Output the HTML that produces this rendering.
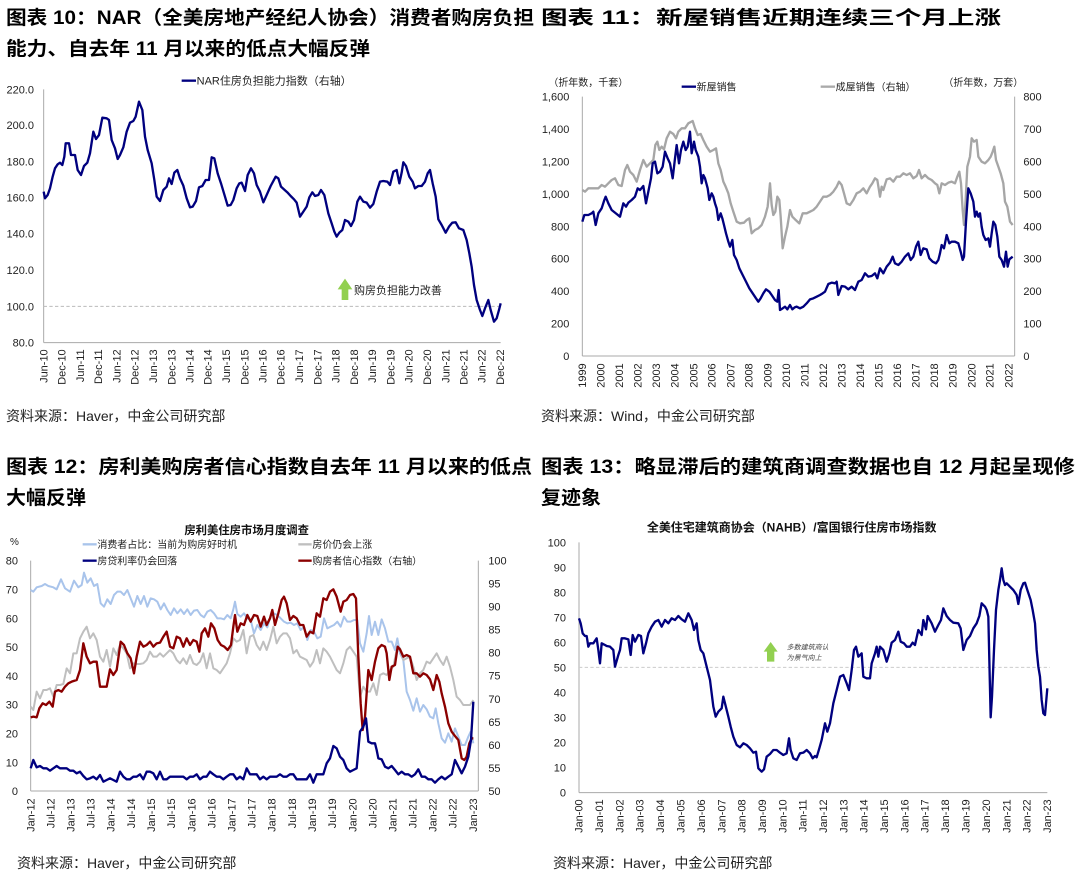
<!DOCTYPE html>
<html><head><meta charset="utf-8"><style>
html,body{margin:0;padding:0;background:#fff;}
svg{display:block;font-family:"Liberation Sans","Noto Sans CJK SC",sans-serif;}
.t{font-weight:bold;font-size:19px;fill:#000;}
.s{font-size:14px;fill:#222;}
.ax{font-size:33px;fill:#222;}
.sm{font-size:30px;fill:#222;}
</style></head><body>
<svg width="1080" height="881" viewBox="0 0 1080 881" xmlns="http://www.w3.org/2000/svg">
<rect width="1080" height="881" fill="#fff"/>
<!-- titles -->
<text class="t" x="6" y="24" textLength="528" lengthAdjust="spacingAndGlyphs">图表 10：NAR（全美房地产经纪人协会）消费者购房负担</text>
<text class="t" x="6" y="55" textLength="364" lengthAdjust="spacingAndGlyphs">能力、自去年 11 月以来的低点大幅反弹</text>
<text class="t" x="541" y="24" textLength="460" lengthAdjust="spacingAndGlyphs">图表 11：新屋销售近期连续三个月上涨</text>
<text class="t" x="6" y="473" textLength="526" lengthAdjust="spacingAndGlyphs">图表 12：房利美购房者信心指数自去年 11 月以来的低点</text>
<text class="t" x="6" y="504" textLength="80" lengthAdjust="spacingAndGlyphs">大幅反弹</text>
<text class="t" x="541" y="473" textLength="534" lengthAdjust="spacingAndGlyphs">图表 13：略显滞后的建筑商调查数据也自 12 月起呈现修</text>
<text class="t" x="541" y="504" textLength="60" lengthAdjust="spacingAndGlyphs">复迹象</text>
<text class="s" x="6" y="421">资料来源：Haver，中金公司研究部</text>
<text class="s" x="541" y="421">资料来源：Wind，中金公司研究部</text>
<text class="s" x="17" y="868">资料来源：Haver，中金公司研究部</text>
<text class="s" x="553" y="868">资料来源：Haver，中金公司研究部</text>

<!-- Chart 1 -->
<g transform="translate(0,60) scale(0.33333)">
<line x1="131" y1="88" x2="131" y2="848" stroke="#aaa" stroke-width="3"/>
<line x1="131" y1="848" x2="1502" y2="848" stroke="#aaa" stroke-width="3"/>
<line x1="131" y1="739" x2="1502" y2="739" stroke="#bbb" stroke-width="3" stroke-dasharray="10,7"/>
<g class="ax" text-anchor="end">
<text x="102" y="100">220.0</text><text x="102" y="207">200.0</text><text x="102" y="316">180.0</text><text x="102" y="424">160.0</text><text x="102" y="533">140.0</text><text x="102" y="642">120.0</text><text x="102" y="751">100.0</text><text x="102" y="859">80.0</text>
</g>
<line x1="545" y1="62" x2="588" y2="62" stroke="#00007f" stroke-width="7"/>
<text class="ax" x="590" y="73">NAR住房负担能力指数（右轴）</text>
<polygon points="1013,688 1035,656 1057,688 1045,688 1045,720 1025,720 1025,688" fill="#92d050"/>
<text class="ax" x="1062" y="702">购房负担能力改善</text>
<polyline fill="none" stroke="#00007f" stroke-width="7" stroke-linejoin="round" points="131,395 135,415 143,405 150,385 158,350 165,325 173,313 180,308 187,315 193,290 197,250 207,250 213,285 225,285 233,330 243,345 252,318 262,308 270,280 280,215 288,237 297,225 307,173 320,175 327,180 335,240 345,265 353,297 360,285 370,262 380,215 390,188 400,183 407,170 417,125 427,150 435,230 443,270 455,310 463,360 470,410 480,423 490,390 500,380 507,355 515,372 523,338 532,330 540,355 550,377 560,415 570,442 578,440 588,423 597,382 607,378 617,360 627,360 635,292 643,295 653,340 663,370 675,410 683,437 692,435 700,420 710,385 718,370 725,368 735,393 743,345 753,325 762,340 770,375 780,395 790,427 800,405 812,378 827,350 835,355 843,380 852,388 862,397 872,408 882,418 890,428 900,470 910,455 920,440 928,412 937,397 945,408 955,405 963,390 973,405 985,460 995,490 1003,515 1010,530 1018,518 1027,510 1035,480 1045,485 1053,498 1062,480 1072,425 1080,410 1090,425 1100,428 1110,443 1120,432 1130,395 1140,365 1150,363 1162,365 1170,375 1180,335 1190,330 1198,370 1205,338 1210,307 1218,318 1228,350 1238,365 1245,385 1255,378 1265,378 1275,365 1283,340 1290,330 1298,370 1307,410 1315,478 1325,495 1337,518 1347,500 1357,488 1367,487 1377,505 1390,510 1400,540 1408,580 1415,620 1422,675 1430,720 1440,750 1447,768 1455,745 1465,720 1472,750 1482,785 1490,775 1497,750 1502,730"/>
<g class="ax" text-anchor="end">
<text transform="translate(142,868) rotate(-90)">Jun-10</text><text transform="translate(197,868) rotate(-90)">Dec-10</text><text transform="translate(252,868) rotate(-90)">Jun-11</text><text transform="translate(306,868) rotate(-90)">Dec-11</text><text transform="translate(361,868) rotate(-90)">Jun-12</text><text transform="translate(416,868) rotate(-90)">Dec-12</text><text transform="translate(471,868) rotate(-90)">Jun-13</text><text transform="translate(526,868) rotate(-90)">Dec-13</text><text transform="translate(580,868) rotate(-90)">Jun-14</text><text transform="translate(635,868) rotate(-90)">Dec-14</text><text transform="translate(690,868) rotate(-90)">Jun-15</text><text transform="translate(745,868) rotate(-90)">Dec-15</text><text transform="translate(800,868) rotate(-90)">Jun-16</text><text transform="translate(854,868) rotate(-90)">Dec-16</text><text transform="translate(909,868) rotate(-90)">Jun-17</text><text transform="translate(964,868) rotate(-90)">Dec-17</text><text transform="translate(1019,868) rotate(-90)">Jun-18</text><text transform="translate(1074,868) rotate(-90)">Dec-18</text><text transform="translate(1128,868) rotate(-90)">Jun-19</text><text transform="translate(1183,868) rotate(-90)">Dec-19</text><text transform="translate(1238,868) rotate(-90)">Jun-20</text><text transform="translate(1293,868) rotate(-90)">Dec-20</text><text transform="translate(1348,868) rotate(-90)">Jun-21</text><text transform="translate(1402,868) rotate(-90)">Dec-21</text><text transform="translate(1457,868) rotate(-90)">Jun-22</text><text transform="translate(1512,868) rotate(-90)">Dec-22</text>
</g>
</g>

<!-- Chart 2 -->
<g transform="translate(540,60) scale(0.33333)">
<line x1="127" y1="110" x2="127" y2="888" stroke="#aaa" stroke-width="3"/>
<line x1="1424" y1="110" x2="1424" y2="888" stroke="#aaa" stroke-width="3"/>
<line x1="127" y1="888" x2="1424" y2="888" stroke="#aaa" stroke-width="3"/>
<g class="ax" text-anchor="end">
<text x="88" y="122">1,600</text><text x="88" y="219">1,400</text><text x="88" y="316">1,200</text><text x="88" y="414">1,000</text><text x="88" y="511">800</text><text x="88" y="608">600</text><text x="88" y="705">400</text><text x="88" y="803">200</text><text x="88" y="900">0</text>
</g>
<g class="ax">
<text x="1450" y="122">800</text><text x="1450" y="219">700</text><text x="1450" y="316">600</text><text x="1450" y="414">500</text><text x="1450" y="511">400</text><text x="1450" y="608">300</text><text x="1450" y="705">200</text><text x="1450" y="803">100</text><text x="1450" y="900">0</text>
</g>
<text class="sm" x="25" y="78">（折年数，千套）</text>
<text class="sm" x="1210" y="78">（折年数，万套）</text>
<line x1="425" y1="80" x2="468" y2="80" stroke="#00007f" stroke-width="7"/>
<text class="sm" x="470" y="91">新屋销售</text>
<line x1="842" y1="80" x2="885" y2="80" stroke="#aaa" stroke-width="7"/>
<text class="sm" x="887" y="91">成屋销售（右轴）</text>
<polyline fill="none" stroke="#a6a6a6" stroke-width="7" stroke-linejoin="round" points="127,390 135,395 145,385 160,385 175,385 185,375 195,380 205,370 215,360 225,355 235,375 245,378 255,330 262,315 270,335 280,345 290,365 300,330 310,300 320,320 330,310 340,300 346,255 352,245 358,270 365,260 372,268 380,235 390,215 400,222 408,235 415,215 425,205 435,205 445,190 458,183 465,205 473,225 482,222 490,240 500,260 510,275 520,270 528,265 535,310 542,330 550,365 557,380 565,400 572,430 580,455 590,485 600,490 612,488 620,480 628,475 635,520 645,510 655,505 665,495 675,470 683,440 690,370 695,435 700,465 706,455 712,410 718,420 722,470 728,565 735,530 742,500 750,450 757,470 765,478 778,490 788,460 800,460 810,455 820,450 830,440 840,425 850,410 860,410 870,405 880,395 890,380 897,365 905,375 912,400 920,430 930,435 940,420 950,400 960,395 970,385 980,400 990,380 997,370 1005,355 1012,360 1020,410 1025,380 1030,390 1040,358 1050,355 1060,365 1070,350 1080,350 1090,340 1100,345 1110,340 1120,355 1130,348 1137,330 1145,355 1155,345 1165,355 1175,360 1185,370 1192,375 1198,400 1205,370 1215,375 1225,368 1235,365 1245,370 1252,350 1258,335 1263,370 1268,450 1272,495 1277,420 1282,320 1290,290 1295,235 1302,245 1310,240 1315,290 1325,305 1335,310 1345,300 1352,290 1358,275 1363,260 1368,300 1375,320 1382,340 1390,370 1395,425 1402,440 1410,485 1418,495"/>
<polyline fill="none" stroke="#00007f" stroke-width="7" stroke-linejoin="round" points="127,485 133,465 145,465 155,460 160,455 167,495 175,460 185,445 193,420 197,410 205,430 215,450 230,462 240,470 250,430 258,440 265,428 275,420 285,410 293,385 300,390 310,378 318,430 325,395 333,355 338,310 345,305 352,340 360,335 368,320 375,275 383,295 390,310 398,355 405,295 410,255 417,310 423,270 430,245 437,270 443,260 450,215 455,280 462,245 467,270 475,290 480,320 485,370 490,345 495,355 503,385 508,420 515,400 520,410 525,430 530,445 535,480 542,460 547,475 552,495 558,520 565,545 570,560 577,540 582,585 590,600 598,625 608,645 618,665 628,685 638,700 648,715 655,725 662,715 670,700 678,688 688,695 695,705 705,720 712,725 716,690 720,750 728,745 735,740 742,748 750,735 757,748 764,742 770,740 780,745 790,740 800,730 810,718 820,715 830,710 840,705 848,700 855,695 865,672 875,668 885,670 890,665 895,705 905,678 915,680 925,688 935,680 945,690 955,665 965,660 975,640 985,650 995,648 1005,640 1012,655 1020,625 1030,640 1040,620 1050,608 1058,590 1065,610 1075,615 1085,605 1095,590 1105,580 1112,600 1120,590 1128,560 1135,545 1142,585 1150,565 1160,568 1168,595 1178,605 1188,610 1195,600 1200,580 1205,555 1212,565 1220,525 1228,550 1235,545 1245,545 1255,550 1262,575 1268,600 1272,590 1278,485 1285,385 1292,400 1300,425 1305,470 1310,455 1315,470 1320,460 1325,500 1330,525 1337,540 1345,535 1350,560 1355,520 1360,485 1366,495 1372,530 1378,590 1385,600 1392,620 1398,575 1403,620 1408,598 1418,590"/>
<g class="ax" text-anchor="end">
<text transform="translate(138,910) rotate(-90)">1999</text><text transform="translate(194,910) rotate(-90)">2000</text><text transform="translate(249,910) rotate(-90)">2001</text><text transform="translate(305,910) rotate(-90)">2002</text><text transform="translate(360,910) rotate(-90)">2003</text><text transform="translate(416,910) rotate(-90)">2004</text><text transform="translate(472,910) rotate(-90)">2005</text><text transform="translate(527,910) rotate(-90)">2006</text><text transform="translate(583,910) rotate(-90)">2007</text><text transform="translate(638,910) rotate(-90)">2008</text><text transform="translate(694,910) rotate(-90)">2009</text><text transform="translate(750,910) rotate(-90)">2010</text><text transform="translate(805,910) rotate(-90)">2011</text><text transform="translate(861,910) rotate(-90)">2012</text><text transform="translate(916,910) rotate(-90)">2013</text><text transform="translate(972,910) rotate(-90)">2014</text><text transform="translate(1028,910) rotate(-90)">2015</text><text transform="translate(1083,910) rotate(-90)">2016</text><text transform="translate(1139,910) rotate(-90)">2017</text><text transform="translate(1194,910) rotate(-90)">2018</text><text transform="translate(1250,910) rotate(-90)">2019</text><text transform="translate(1306,910) rotate(-90)">2020</text><text transform="translate(1361,910) rotate(-90)">2021</text><text transform="translate(1417,910) rotate(-90)">2022</text>
</g>
</g>

<!-- Chart 3 -->
<g transform="translate(0,510) scale(0.33333)">
<line x1="92" y1="152" x2="92" y2="843" stroke="#aaa" stroke-width="3"/>
<line x1="1435" y1="152" x2="1435" y2="843" stroke="#aaa" stroke-width="3"/>
<line x1="92" y1="843" x2="1435" y2="843" stroke="#aaa" stroke-width="3"/>
<text x="740" y="72" text-anchor="middle" style="font-size:34px;font-weight:bold;fill:#111">房利美住房市场月度调查</text>
<text class="sm" x="30" y="105">%</text>
<g class="ax" text-anchor="end">
<text x="54" y="164">80</text><text x="54" y="250">70</text><text x="54" y="337">60</text><text x="54" y="423">50</text><text x="54" y="510">40</text><text x="54" y="596">30</text><text x="54" y="682">20</text><text x="54" y="769">10</text><text x="54" y="855">0</text>
</g>
<g class="ax">
<text x="1465" y="164">100</text><text x="1465" y="233">95</text><text x="1465" y="302">90</text><text x="1465" y="371">85</text><text x="1465" y="440">80</text><text x="1465" y="509">75</text><text x="1465" y="579">70</text><text x="1465" y="648">65</text><text x="1465" y="717">60</text><text x="1465" y="786">55</text><text x="1465" y="855">50</text>
</g>
<line x1="248" y1="103" x2="290" y2="103" stroke="#a9c4eb" stroke-width="7"/>
<text class="sm" x="292" y="114">消费者占比：当前为购房好时机</text>
<line x1="895" y1="103" x2="935" y2="103" stroke="#bfbfbf" stroke-width="7"/>
<text class="sm" x="937" y="114">房价仍会上涨</text>
<line x1="248" y1="152" x2="290" y2="152" stroke="#00007f" stroke-width="7"/>
<text class="sm" x="292" y="163">房贷利率仍会回落</text>
<line x1="895" y1="152" x2="935" y2="152" stroke="#8b0000" stroke-width="7"/>
<text class="sm" x="937" y="163">购房者信心指数（右轴）</text>
<polyline fill="none" stroke="#a9c4eb" stroke-width="6" stroke-linejoin="round" points="92,240 100,245 110,232 125,228 135,222 145,228 160,232 170,238 183,208 195,235 210,245 222,212 235,232 245,225 252,188 262,218 272,205 282,228 292,222 302,280 312,290 322,268 332,282 342,255 352,245 362,245 372,255 382,240 392,265 402,290 412,258 422,282 432,258 442,290 452,265 462,268 472,275 482,298 492,280 502,300 512,315 522,295 532,310 542,298 552,312 562,298 572,315 582,302 592,300 602,315 612,322 622,305 632,300 642,310 652,325 662,325 672,328 682,315 692,325 700,298 705,275 712,312 722,320 732,310 742,325 752,330 762,370 772,345 782,360 792,340 802,352 812,318 822,310 832,315 842,325 852,335 862,340 872,338 882,345 892,340 902,360 912,350 922,390 932,360 942,365 952,385 962,380 972,325 982,355 992,350 1002,345 1012,335 1022,350 1032,320 1042,335 1052,335 1062,330 1072,330 1080,400 1090,425 1100,370 1107,318 1115,375 1125,335 1135,375 1145,328 1155,355 1165,395 1175,395 1185,420 1192,385 1200,430 1210,450 1220,545 1230,570 1240,602 1250,565 1260,605 1270,585 1280,598 1290,620 1300,625 1307,595 1315,640 1325,685 1335,698 1345,670 1355,695 1365,655 1375,680 1385,705 1395,705 1405,680 1412,665 1420,700"/>
<polyline fill="none" stroke="#bfbfbf" stroke-width="6" stroke-linejoin="round" points="92,590 100,600 110,545 120,565 130,540 140,540 150,535 160,560 170,525 180,525 190,522 200,475 210,490 220,430 230,430 240,385 250,365 260,350 270,385 280,370 290,390 300,440 310,455 320,420 330,470 340,415 350,435 360,405 370,415 380,430 390,475 400,460 410,462 420,462 430,460 440,450 450,425 460,440 470,440 480,430 490,440 500,430 510,420 520,430 530,450 540,460 550,445 560,462 570,435 580,460 590,465 600,455 610,430 620,475 630,430 640,475 650,480 660,490 670,475 680,460 690,430 700,385 710,395 720,390 730,360 740,430 750,380 760,375 770,405 780,420 790,395 800,420 810,390 820,350 830,400 840,380 850,370 860,370 870,385 880,430 890,420 900,440 910,445 920,450 930,470 940,455 950,420 960,460 970,415 980,425 990,440 1000,460 1010,480 1020,490 1030,460 1040,420 1050,410 1060,425 1070,440 1080,560 1090,530 1100,545 1110,545 1120,520 1130,555 1140,495 1150,490 1160,495 1170,480 1180,470 1190,420 1200,415 1210,450 1220,445 1230,440 1240,470 1250,510 1260,490 1270,480 1280,455 1290,460 1300,445 1310,430 1320,450 1330,465 1340,440 1350,470 1360,510 1370,560 1380,570 1390,585 1400,585 1410,585 1420,570"/>
<polyline fill="none" stroke="#8b0000" stroke-width="7" stroke-linejoin="round" points="92,622 100,620 110,622 118,595 128,580 138,585 148,575 158,590 165,545 175,540 185,545 195,530 205,520 215,515 230,510 240,480 250,400 260,440 270,460 280,455 290,455 300,530 310,530 320,530 330,478 340,495 350,480 362,395 372,405 382,430 392,445 402,490 410,440 420,395 430,410 440,405 450,395 460,410 470,400 480,398 490,380 500,365 510,410 520,415 530,380 540,385 550,410 560,385 570,405 580,390 590,395 598,425 605,370 615,355 625,380 633,340 643,355 653,390 663,405 673,410 683,420 693,405 700,350 705,315 712,365 722,340 732,345 742,315 752,335 762,315 772,318 782,350 792,320 800,345 810,325 817,300 825,345 835,310 845,270 852,260 860,280 870,330 880,318 890,325 900,345 910,345 920,380 930,365 940,370 950,310 960,320 970,265 980,270 990,245 1000,238 1010,260 1022,305 1030,275 1040,270 1050,255 1060,252 1068,265 1075,440 1082,580 1088,660 1095,620 1105,480 1115,510 1125,455 1135,415 1145,405 1155,410 1160,430 1168,510 1175,470 1185,465 1193,410 1200,418 1210,440 1220,435 1230,440 1240,490 1250,490 1260,500 1270,490 1280,495 1290,508 1300,540 1310,495 1318,515 1325,550 1335,590 1345,640 1355,665 1365,678 1375,690 1385,745 1393,750 1400,740 1408,700 1415,685 1420,685"/>
<polyline fill="none" stroke="#00007f" stroke-width="7" stroke-linejoin="round" points="92,775 100,750 110,772 120,768 130,775 140,775 150,782 160,775 170,768 180,775 190,775 200,775 210,782 220,782 230,790 240,785 250,798 260,808 270,805 280,800 290,808 300,795 310,815 320,810 330,805 340,810 350,815 360,785 370,800 380,808 390,808 400,800 410,800 420,793 430,808 440,785 450,785 460,790 470,808 480,785 490,808 500,808 510,800 520,800 530,800 540,800 550,800 560,808 570,800 580,800 590,793 600,808 610,800 620,800 630,785 640,793 650,800 660,800 670,808 680,800 690,793 700,793 710,808 720,800 730,808 740,775 750,793 760,793 770,793 780,808 790,800 800,808 810,800 820,800 830,800 840,793 850,800 860,800 870,793 880,793 890,808 900,808 910,808 920,808 930,793 940,818 950,793 960,793 970,793 980,760 990,745 1000,708 1010,715 1020,740 1030,750 1040,775 1050,785 1060,780 1070,775 1080,665 1090,650 1098,625 1105,695 1115,700 1125,700 1130,720 1135,745 1145,748 1155,770 1165,775 1175,768 1185,780 1195,793 1205,785 1215,793 1225,793 1235,800 1245,793 1255,778 1265,800 1275,800 1285,808 1295,808 1305,818 1315,808 1325,800 1335,808 1345,800 1355,793 1365,750 1375,770 1385,790 1395,770 1405,740 1413,690 1420,575"/>
<g class="ax" text-anchor="end">
<text transform="translate(103,865) rotate(-90)">Jan-12</text><text transform="translate(163,865) rotate(-90)">Jul-12</text><text transform="translate(224,865) rotate(-90)">Jan-13</text><text transform="translate(284,865) rotate(-90)">Jul-13</text><text transform="translate(344,865) rotate(-90)">Jan-14</text><text transform="translate(405,865) rotate(-90)">Jul-14</text><text transform="translate(465,865) rotate(-90)">Jan-15</text><text transform="translate(525,865) rotate(-90)">Jul-15</text><text transform="translate(586,865) rotate(-90)">Jan-16</text><text transform="translate(646,865) rotate(-90)">Jul-16</text><text transform="translate(707,865) rotate(-90)">Jan-17</text><text transform="translate(767,865) rotate(-90)">Jul-17</text><text transform="translate(827,865) rotate(-90)">Jan-18</text><text transform="translate(888,865) rotate(-90)">Jul-18</text><text transform="translate(948,865) rotate(-90)">Jan-19</text><text transform="translate(1008,865) rotate(-90)">Jul-19</text><text transform="translate(1069,865) rotate(-90)">Jan-20</text><text transform="translate(1129,865) rotate(-90)">Jul-20</text><text transform="translate(1189,865) rotate(-90)">Jan-21</text><text transform="translate(1250,865) rotate(-90)">Jul-21</text><text transform="translate(1310,865) rotate(-90)">Jan-22</text><text transform="translate(1370,865) rotate(-90)">Jul-22</text><text transform="translate(1431,865) rotate(-90)">Jan-23</text>
</g>
</g>

<!-- Chart 4 -->
<g transform="translate(540,510) scale(0.33333)">
<line x1="117" y1="97" x2="117" y2="848" stroke="#aaa" stroke-width="3"/>
<line x1="117" y1="848" x2="1522" y2="848" stroke="#aaa" stroke-width="3"/>
<line x1="117" y1="472" x2="1530" y2="472" stroke="#ccc" stroke-width="3" stroke-dasharray="10,7"/>
<text x="755" y="64" text-anchor="middle" style="font-size:36px;font-weight:bold;fill:#111">全美住宅建筑商协会（NAHB）/富国银行住房市场指数</text>
<g class="ax" text-anchor="end">
<text x="78" y="109">100</text><text x="78" y="184">90</text><text x="78" y="259">80</text><text x="78" y="334">70</text><text x="78" y="409">60</text><text x="78" y="484">50</text><text x="78" y="559">40</text><text x="78" y="634">30</text><text x="78" y="710">20</text><text x="78" y="785">10</text><text x="78" y="860">0</text>
</g>
<polygon points="671,425 692,396 713,425 703,425 703,455 681,455 681,425" fill="#92d050"/>
<text x="740" y="418" style="font-size:21px;font-style:italic;fill:#444">多数建筑商认</text>
<text x="740" y="450" style="font-size:21px;font-style:italic;fill:#444">为景气向上</text>
<polyline fill="none" stroke="#00007f" stroke-width="7" stroke-linejoin="round" points="117,325 122,340 128,370 135,378 140,378 145,410 150,400 160,400 170,385 175,420 180,460 185,400 195,405 200,408 210,410 220,420 225,470 235,435 240,420 245,385 255,385 265,388 272,435 278,375 285,395 295,375 303,378 310,430 318,400 325,370 335,350 345,335 355,330 365,350 375,330 385,340 395,325 405,330 415,318 425,328 435,335 445,310 455,330 462,360 470,340 475,390 482,420 490,430 500,470 510,510 515,550 520,590 527,620 535,605 545,595 550,560 555,580 565,620 572,650 580,680 590,705 600,712 610,700 620,705 630,715 640,728 648,725 655,775 665,785 672,778 680,740 690,732 700,720 710,720 720,728 730,735 740,730 747,685 752,720 760,745 770,750 780,730 790,728 800,720 810,730 818,745 825,738 830,742 838,715 845,690 855,640 862,665 870,640 880,580 890,540 900,500 910,495 920,520 927,540 935,480 942,420 948,410 955,440 965,430 970,500 980,505 990,505 995,460 1005,430 1010,410 1015,440 1020,410 1030,420 1040,455 1048,430 1055,398 1065,390 1075,365 1082,395 1092,400 1100,410 1110,410 1118,398 1125,405 1135,360 1145,375 1150,330 1158,358 1163,318 1175,340 1185,365 1195,345 1203,330 1210,295 1220,318 1230,330 1240,338 1255,340 1262,355 1270,420 1280,390 1290,378 1300,355 1310,340 1318,318 1325,280 1335,290 1340,300 1345,320 1348,450 1352,622 1356,560 1362,420 1368,300 1375,240 1380,210 1385,175 1390,210 1395,225 1400,220 1410,230 1420,240 1430,255 1435,282 1442,240 1450,220 1455,218 1462,240 1472,270 1478,300 1485,340 1490,420 1495,470 1500,500 1505,570 1510,610 1515,615 1522,535"/>
<g class="ax" text-anchor="end">
<text transform="translate(128,868) rotate(-90)">Jan-00</text><text transform="translate(189,868) rotate(-90)">Jan-01</text><text transform="translate(250,868) rotate(-90)">Jan-02</text><text transform="translate(311,868) rotate(-90)">Jan-03</text><text transform="translate(372,868) rotate(-90)">Jan-04</text><text transform="translate(433,868) rotate(-90)">Jan-05</text><text transform="translate(495,868) rotate(-90)">Jan-06</text><text transform="translate(556,868) rotate(-90)">Jan-07</text><text transform="translate(617,868) rotate(-90)">Jan-08</text><text transform="translate(678,868) rotate(-90)">Jan-09</text><text transform="translate(739,868) rotate(-90)">Jan-10</text><text transform="translate(800,868) rotate(-90)">Jan-11</text><text transform="translate(861,868) rotate(-90)">Jan-12</text><text transform="translate(922,868) rotate(-90)">Jan-13</text><text transform="translate(983,868) rotate(-90)">Jan-14</text><text transform="translate(1044,868) rotate(-90)">Jan-15</text><text transform="translate(1105,868) rotate(-90)">Jan-16</text><text transform="translate(1166,868) rotate(-90)">Jan-17</text><text transform="translate(1227,868) rotate(-90)">Jan-18</text><text transform="translate(1289,868) rotate(-90)">Jan-19</text><text transform="translate(1350,868) rotate(-90)">Jan-20</text><text transform="translate(1411,868) rotate(-90)">Jan-21</text><text transform="translate(1472,868) rotate(-90)">Jan-22</text><text transform="translate(1533,868) rotate(-90)">Jan-23</text>
</g>
</g>
</svg>
</body></html>
